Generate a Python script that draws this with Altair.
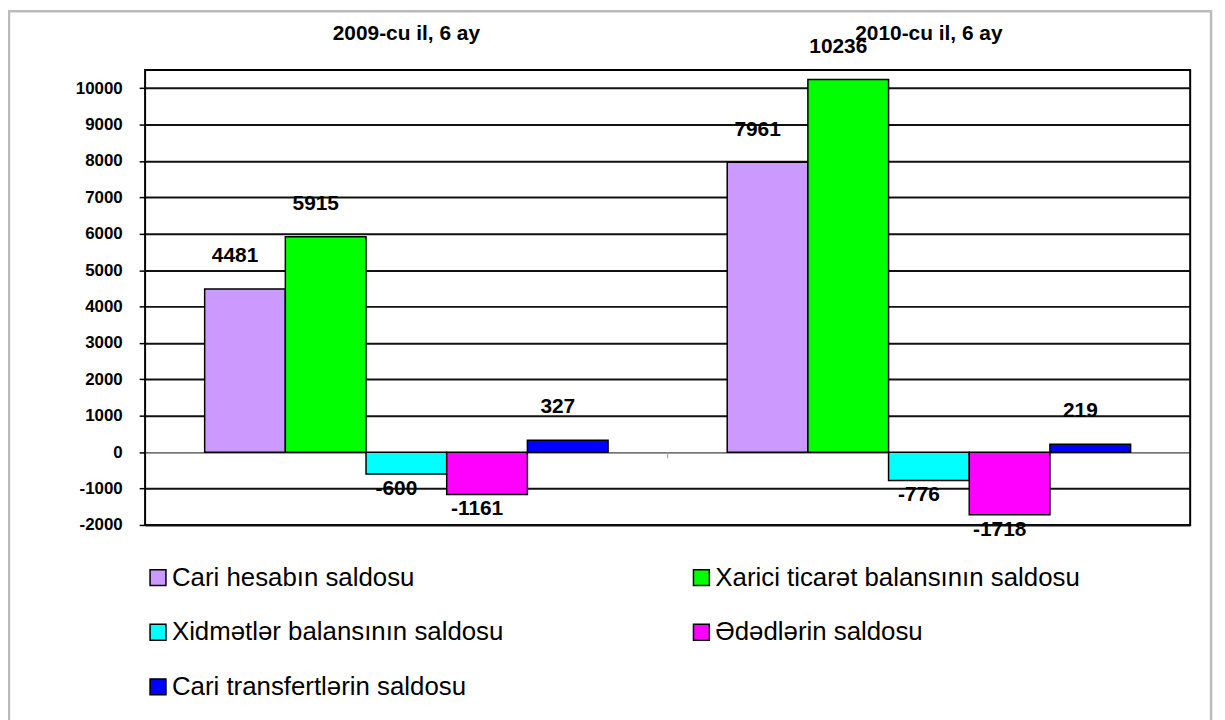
import altair as alt
import pandas as pd

periods = ["2009-cu il, 6 ay", "2010-cu il, 6 ay"]
series = [
    "Cari hesabın saldosu",
    "Xarici ticarət balansının saldosu",
    "Xidmətlər balansının saldosu",
    "Ədədlərin saldosu",
    "Cari transfertlərin saldosu",
]
values_2009 = [4481, 5915, -600, -1161, 327]
values_2010 = [7961, 10236, -776, -1718, 219]
colors = ["#CC99FF", "#00FF00", "#00FFFF", "#FF00FF", "#0000FF"]
y_ticks = list(range(-2000, 10001, 1000))

rows = []
for p, vals in zip(periods, [values_2009, values_2010]):
    for s, v in zip(series, vals):
        rows.append({"period": p, "series": s, "value": v})
df = pd.DataFrame(rows)

FONT = "Liberation Sans"
W, H = 1052, 458

x_enc = alt.X(
    "period:N",
    sort=periods,
    scale=alt.Scale(paddingInner=0.228, paddingOuter=0.114),
    axis=alt.Axis(
        orient="top", title=None, ticks=False, domain=False, labelAngle=0,
        labelFont=FONT, labelFontSize=21, labelFontWeight="bold",
        labelColor="black", labelPadding=27,
    ),
)
xoff = alt.XOffset("series:N", sort=series, scale=alt.Scale(paddingInner=0, paddingOuter=0))

y_scale = alt.Scale(domain=[-2000, 10500], nice=False)
y_axis = alt.Axis(
    title=None, values=y_ticks, grid=True, gridColor="#111111",
    gridWidth={"condition": {"test": "datum.value === 0", "value": 1}, "value": 2},
    domain=False, tickColor="black", tickSize=6, tickWidth=1.5,
    labelExpr="toString(datum.value)",
    labelFont=FONT, labelFontSize=17, labelFontWeight="bold",
    labelColor="black", labelPadding=17,
)


def y_enc(field):
    return alt.Y(field, type="quantitative", scale=y_scale, axis=y_axis, title=None)


base = alt.Chart(df).transform_calculate(label="toString(datum.value)")

bars = base.mark_bar(stroke="black", strokeWidth=1.5).encode(
    x=x_enc,
    xOffset=xoff,
    y=y_enc("value"),
    color=alt.Color(
        "series:N",
        sort=series,
        scale=alt.Scale(domain=series, range=colors),
        legend=alt.Legend(
            title=None, orient="none", legendX=0, legendY=498, columns=2,
            direction="horizontal",
            symbolType="square", symbolSize=256, symbolStrokeColor="black",
            symbolStrokeWidth=1.5, symbolOpacity=1,
            labelFont=FONT, labelFontSize=26, labelColor="black",
            labelOffset=1, rowPadding=29, columnPadding=186,
            labelLimit=600,
        ),
    ),
)

label_style = dict(font=FONT, fontSize=21, fontWeight="bold", color="black", dx=-10)

pos_labels = base.transform_filter("datum.value >= 0").mark_text(
    baseline="middle", dy=-33, **label_style
).encode(x=x_enc, xOffset=xoff, y=y_enc("value"), text="label:N")

neg_labels = base.transform_filter("datum.value < 0").mark_text(
    baseline="middle", dy=15, **label_style
).encode(x=x_enc, xOffset=xoff, y=y_enc("value"), text="label:N")

one = pd.DataFrame({"a": [0]})

frame = alt.Chart(one).mark_rect(
    fill=None, stroke="#BBBBBB", strokeWidth=2.5
).encode(
    x=alt.value(-137), x2=alt.value(1073), y=alt.value(-59), y2=alt.value(700)
)

sep_tick = alt.Chart(one).transform_calculate(
    z0="0", z1="-170"
).mark_rule(color="#999999", strokeWidth=1).encode(
    x=alt.value(W / 2), y=y_enc("z0"), y2="z1:Q"
)

chart = alt.layer(frame, bars, sep_tick, pos_labels, neg_labels).properties(
    width=W,
    height=H,
    autosize=alt.AutoSizeParams(type="none"),
    padding={"left": 138, "top": 60, "right": 27, "bottom": 194},
    background="white",
).configure_view(stroke="black", strokeWidth=2)

chart.save("out.html", embed_options={"renderer": "svg", "actions": False})
